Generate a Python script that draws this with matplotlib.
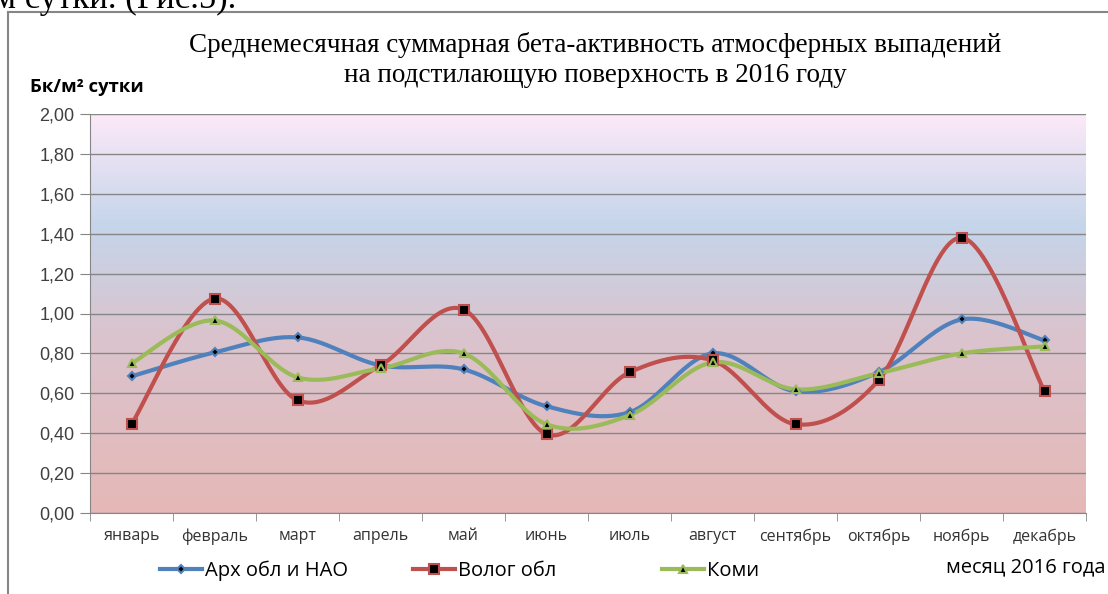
import numpy as np
import matplotlib.pyplot as plt
from matplotlib.colors import LinearSegmentedColormap
from matplotlib.lines import Line2D

months = ['январь', 'февраль', 'март', 'апрель', 'май', 'июнь',
          'июль', 'август', 'сентябрь', 'октябрь', 'ноябрь', 'декабрь']
arh = [0.685, 0.805, 0.88, 0.74, 0.72, 0.535, 0.505, 0.80, 0.61, 0.705, 0.97, 0.865]
vologda = [0.445, 1.075, 0.565, 0.74, 1.02, 0.395, 0.705, 0.765, 0.445, 0.665, 1.38, 0.61]
komi = [0.75, 0.965, 0.68, 0.725, 0.80, 0.445, 0.49, 0.755, 0.62, 0.70, 0.80, 0.835]
y_ticks = [0.0, 0.2, 0.4, 0.6, 0.8, 1.0, 1.2, 1.4, 1.6, 1.8, 2.0]


# Excel-like smoothed line: cubic bezier through the points
def smooth(x, y, n=30):
    x = np.asarray(x, float)
    y = np.asarray(y, float)
    px = np.concatenate([[x[0]], x, [x[-1]]])
    py = np.concatenate([[y[0]], y, [y[-1]]])
    xs, ys = [], []
    t = np.linspace(0, 1, n)
    for i in range(1, len(px) - 2):
        p0 = np.array([px[i], py[i]])
        p3 = np.array([px[i + 1], py[i + 1]])
        p1 = p0 + (p3 - np.array([px[i - 1], py[i - 1]])) / 6
        p2 = p3 - (np.array([px[i + 2], py[i + 2]]) - p0) / 6
        b = ((1 - t) ** 3)[:, None] * p0 + (3 * (1 - t) ** 2 * t)[:, None] * p1 \
            + (3 * (1 - t) * t ** 2)[:, None] * p2 + (t ** 3)[:, None] * p3
        xs.extend(b[:, 0])
        ys.extend(b[:, 1])
    return xs, ys


fig = plt.figure(figsize=(11.08, 5.94), dpi=100)
W, H = 1108, 594
ax = fig.add_axes([90 / W, 1 - 513 / H, (1086 - 90) / W, (513 - 114) / H])

# background gradient
cmap = LinearSegmentedColormap.from_list('bg', [
    (0.0, (230/255, 184/255, 183/255)),
    (0.45, (218/255, 196/255, 206/255)),
    (0.72, (197/255, 213/255, 234/255)),
    (1.0, (252/255, 233/255, 248/255))])
grad = np.linspace(0, 1, 256).reshape(-1, 1)
ax.imshow(grad, aspect='auto', cmap=cmap, origin='lower',
          extent=[0, 1, 0, 1], transform=ax.transAxes, zorder=0)

x = np.arange(len(months))
series = [(arh, '#4f81bd', 'D', 4, 'Арх обл и НАО'),
          (vologda, '#c0504d', 's', 7, 'Волог обл'),
          (komi, '#9bbb59', '^', 6, 'Коми')]
handles = []
for vals, col, mk, ms, lab in series:
    sx, sy = smooth(x, vals)
    ax.plot(sx, sy, color=col, lw=3, solid_capstyle='round', zorder=3)
    ax.plot(x, vals, ls='none', marker=mk, ms=ms, mfc='black', mec=col,
            mew=1.5, zorder=4)
    handles.append(Line2D([], [], color=col, lw=3, marker=mk, ms=ms,
                          mfc='black', mec=col, mew=1.5, label=lab))

ax.set_xlim(-0.5, len(months) - 0.5)
ax.set_ylim(0, 2.0)
ax.set_yticks(y_ticks)
ax.set_yticklabels([('%.2f' % v).replace('.', ',') for v in y_ticks],
                   fontsize=13, family=['Liberation Sans', 'DejaVu Sans'],
                   color='#404040')
ax.set_xticks(x)
ax.set_xticklabels(months, fontsize=11.5, family=['Open Sans', 'DejaVu Sans'],
                   color='#333333')
ax.set_xticks(np.arange(len(months) + 1) - 0.5, minor=True)
ax.tick_params(axis='x', which='major', length=0, pad=11)
ax.tick_params(axis='x', which='minor', length=6, color='#868686')
ax.tick_params(axis='y', length=7, color='#868686', pad=4)
ax.grid(axis='y', color='#868686', lw=1)
ax.set_axisbelow(False)
for s in ['top', 'right']:
    ax.spines[s].set_visible(False)
for s in ['left', 'bottom']:
    ax.spines[s].set_color('#868686')

# legend entries placed one by one like in the reference
leg_x = [160, 413, 662]
for h, lx in zip(handles, leg_x):
    lg = fig.legend(handles=[h], loc='center left',
                    bbox_to_anchor=(lx / W, 1 - 571 / H), frameon=False,
                    borderpad=0, borderaxespad=0, handlelength=2.1,
                    handletextpad=0.15,
                    prop={'family': ['Open Sans', 'DejaVu Sans'], 'size': 14.5})

fig.text(1105 / W, 1 - 567 / H, 'месяц 2016 года', ha='right', va='center',
         fontsize=14.5, family=['Open Sans', 'DejaVu Sans'])
fig.text(30 / W, 1 - 87 / H, 'Бк/м² сутки', ha='left', va='center',
         fontsize=13.3, fontweight='bold', family=['Open Sans', 'DejaVu Sans'])
fig.text(595 / W, 1 - 60 / H,
         'Среднемесячная суммарная бета-активность атмосферных выпадений\n'
         'на подстилающую поверхность в 2016 году',
         ha='center', va='center', fontsize=19.5, linespacing=1.3,
         family=['Liberation Serif', 'DejaVu Serif'])
# cut-off text line above the chart frame
fig.text(-6 / W, 1 - 8 / H, 'м сутки. (Рис.5).', ha='left', va='baseline',
         fontsize=25, family=['Liberation Serif', 'DejaVu Serif'])

# chart frame
fig.add_artist(Line2D([8 / W, 8 / W], [0, 1 - 12 / H], color='#868686', lw=1.5))
fig.add_artist(Line2D([8 / W, 1], [1 - 12 / H, 1 - 12 / H], color='#868686', lw=1.5))

fig.savefig('out.png', dpi=100)
